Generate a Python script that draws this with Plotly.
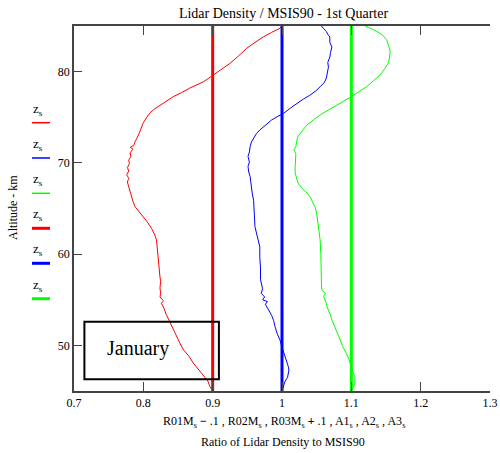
import plotly.graph_objects as go

# ---------------- data ----------------
# Red: R01M_s - .1
red_alt = [45.0, 45.5, 46.1, 46.75, 47.4, 48.07, 48.8, 49.5, 50.2, 50.95, 51.8, 52.6, 53.4, 53.9,
           54.2, 54.6, 54.9, 55.3, 55.7, 56.3, 57.0, 57.5, 58.5, 59.4, 60.5, 61.55, 62.2, 62.8,
           63.5, 64.1, 64.7, 65.2, 65.8, 66.3, 66.9, 67.4, 67.9, 68.3, 68.7, 69.1, 69.5, 69.9,
           70.3, 70.7, 71.1, 71.5, 71.7, 71.9, 72.3, 73.05, 73.7, 74.4, 75.0, 75.5, 75.9, 76.3,
           76.8, 77.25, 77.7, 78.2, 78.9, 79.6, 80.2, 80.9, 81.7, 82.55, 83.2, 83.8, 84.3, 84.75, 85.0]
red_x = [0.900, 0.896, 0.893, 0.886, 0.879, 0.872, 0.866, 0.858, 0.853, 0.848, 0.843, 0.838, 0.833, 0.831,
         0.829, 0.826, 0.829, 0.824, 0.825, 0.824, 0.825, 0.824, 0.823, 0.822, 0.821, 0.819, 0.816, 0.812,
         0.806, 0.800, 0.794, 0.788, 0.785, 0.783, 0.780, 0.778, 0.777, 0.779, 0.776, 0.779, 0.777, 0.780,
         0.779, 0.782, 0.781, 0.785, 0.781, 0.786, 0.788, 0.793, 0.796, 0.800, 0.805, 0.810, 0.816, 0.824,
         0.834, 0.843, 0.855, 0.867, 0.887, 0.900, 0.912, 0.925, 0.937, 0.949, 0.961, 0.973, 0.985, 0.997, 1.000]

# Blue: R02M_s
blue_alt = [45.0, 45.5, 46.0, 46.5, 46.9, 47.3, 47.7, 48.4, 49.1, 49.8, 50.6, 51.3, 52.05, 52.7, 53.3,
            53.8, 54.2, 54.5, 54.8, 55.0, 55.3, 55.7, 56.2, 57.2, 58.5, 59.6, 60.8, 61.9, 63.0, 64.5,
            65.9, 66.7, 67.4, 68.0, 68.5, 69.0, 69.6, 70.1, 70.7, 71.2, 71.8, 72.3, 72.7, 73.2, 73.6,
            74.2, 74.7, 75.1, 75.4, 76.0, 76.5, 77.0, 77.4, 77.9, 78.35, 78.8, 79.3, 79.9, 80.5, 81.0,
            81.6, 82.1, 82.7, 83.2, 83.8, 84.1, 84.4, 84.7, 85.0]
blue_x = [1.000, 1.002, 1.004, 1.008, 1.009, 1.010, 1.009, 1.006, 1.002, 1.000, 0.997, 0.993, 0.990, 0.988, 0.985,
          0.981, 0.978, 0.976, 0.979, 0.972, 0.975, 0.970, 0.972, 0.969, 0.969, 0.968, 0.968, 0.964, 0.961, 0.960,
          0.959, 0.957, 0.956, 0.955, 0.954, 0.952, 0.951, 0.953, 0.951, 0.953, 0.954, 0.956, 0.959, 0.963, 0.968,
          0.977, 0.985, 0.994, 1.002, 1.012, 1.021, 1.031, 1.040, 1.049, 1.055, 1.061, 1.064, 1.066, 1.067, 1.066,
          1.069, 1.070, 1.072, 1.069, 1.069, 1.066, 1.064, 1.060, 1.057]

# Green: R03M_s + .1
green_alt = [45.0, 45.4, 45.9, 46.6, 47.1, 47.7, 48.4, 49.1, 49.8, 50.6, 51.3, 52.05, 52.8, 53.5, 54.2,
             54.6, 55.0, 55.4, 55.7, 56.0, 56.4, 57.5, 58.6, 60.0, 61.55, 63.0, 64.5, 65.1, 65.6, 66.2,
             66.7, 67.2, 67.8, 68.3, 68.9, 69.6, 70.3, 71.0, 71.4, 71.8, 72.3, 72.9, 73.5, 74.15, 74.7,
             75.25, 75.8, 76.3, 76.8, 77.25, 77.8, 78.35, 79.0, 79.6, 80.3, 80.9, 81.5, 82.2, 82.8, 83.5,
             84.0, 84.4, 84.7, 85.0]
green_x = [1.100, 1.103, 1.105, 1.105, 1.102, 1.100, 1.097, 1.093, 1.088, 1.084, 1.080, 1.076, 1.072, 1.069, 1.065,
           1.064, 1.062, 1.060, 1.063, 1.058, 1.057, 1.057, 1.057, 1.056, 1.055, 1.053, 1.050, 1.048, 1.045, 1.041,
           1.036, 1.029, 1.023, 1.021, 1.019, 1.019, 1.019, 1.020, 1.017, 1.020, 1.021, 1.023, 1.029, 1.036, 1.045,
           1.055, 1.067, 1.079, 1.090, 1.100, 1.111, 1.122, 1.132, 1.141, 1.148, 1.153, 1.155, 1.156, 1.154, 1.151,
           1.145, 1.137, 1.129, 1.120]

# Reference ratios A1s, A2s, A3s
ref_values = [0.9, 1.0, 1.1]
alt_span = [45, 85]

x_tickvals = [0.7, 0.8, 0.9, 1.0, 1.1, 1.2, 1.3]
x_ticktext = ["0.7", "0.8", "0.9", "1", "1.1", "1.2", "1.3"]
y_tickvals = [50, 60, 70, 80]

colors = ["#ff0000", "#0000ff", "#00ff00"]
FONT = "Liberation Serif, Times New Roman, serif"

fig = go.Figure()
for xs, ys, c in [(red_x, red_alt, colors[0]), (blue_x, blue_alt, colors[1]), (green_x, green_alt, colors[2])]:
    fig.add_trace(go.Scatter(x=xs, y=ys, mode="lines", line=dict(color=c, width=1), showlegend=False))
for v, c in zip(ref_values, colors):
    fig.add_trace(go.Scatter(x=[v, v], y=alt_span, mode="lines", line=dict(color=c, width=3), showlegend=False))

# January box
fig.add_shape(type="rect", xref="x", yref="y", x0=0.715, x1=0.909, y0=46.3, y1=52.6,
              line=dict(color="black", width=2), fillcolor="rgba(0,0,0,0)")
fig.add_annotation(x=0.792, y=49.7, xref="x", yref="y", text="January", showarrow=False,
                   xanchor="center", yanchor="middle",
                   font=dict(family=FONT, size=20, color="black"))

# custom legend (label above line segment)
W, H, L, B = 416, 365, 74, 391
def px(xp):
    return (xp - L) / W
def py(yp):
    return (B - yp) / H
leg_y = [122.7, 158.0, 193.3, 228.3, 263.3, 298.7]
leg_w = [1.5, 1.5, 1.5, 3, 3, 3]
leg_c = colors + colors
for yy, ww, cc in zip(leg_y, leg_w, leg_c):
    fig.add_shape(type="line", xref="paper", yref="paper", x0=px(32), x1=px(50), y0=py(yy), y1=py(yy),
                  line=dict(color=cc, width=ww))
    fig.add_annotation(x=px(31), y=py(yy - 3), xref="paper", yref="paper", text="z<sub>s</sub>",
                       showarrow=False, xanchor="left", yanchor="bottom",
                       font=dict(family=FONT, size=13, color="black"))

# axis titles
fig.add_annotation(x=px(13), y=py(208), xref="paper", yref="paper", text="Altitude - km", textangle=-90,
                   showarrow=False, xanchor="center", yanchor="middle",
                   font=dict(family=FONT, size=12, color="black"))
fig.add_annotation(x=px(284), y=py(422), xref="paper", yref="paper",
                   text="R01M<sub>s</sub> <b>−</b> .1 , R02M<sub>s</sub> , R03M<sub>s</sub> <b>+</b> .1 , A1<sub>s</sub> , A2<sub>s</sub> , A3<sub>s</sub>",
                   showarrow=False, xanchor="center", yanchor="middle",
                   font=dict(family=FONT, size=12, color="black"))
fig.add_annotation(x=px(282.5), y=py(442), xref="paper", yref="paper",
                   text="Ratio of Lidar Density to MSIS90",
                   showarrow=False, xanchor="center", yanchor="middle",
                   font=dict(family=FONT, size=12, color="black"))

axis_color = "#444444"
fig.update_layout(
    width=500, height=453,
    margin=dict(l=74, r=10, t=26, b=62, autoexpand=False),
    paper_bgcolor="white", plot_bgcolor="white",
    title=dict(text="Lidar Density / MSIS90 - 1st Quarter", x=px(283.5), xref="paper", xanchor="center",
               y=1 - 13 / 453, yref="container", yanchor="middle",
               font=dict(family=FONT, size=14, color="black")),
    xaxis=dict(range=[0.7, 1.3], tickvals=x_tickvals, ticktext=x_ticktext, showgrid=False, zeroline=False,
               showline=True, linecolor=axis_color, linewidth=1.5, mirror="ticks", automargin=False,
               ticks="inside", ticklen=9, tickcolor=axis_color, tickwidth=1,
               tickfont=dict(family=FONT, size=12, color="black")),
    yaxis=dict(range=[45, 85], tickvals=y_tickvals, showgrid=False, zeroline=False, automargin=False,
               showline=True, linecolor=axis_color, linewidth=1.5,
               ticks="inside", ticklen=8, tickcolor=axis_color, tickwidth=1,
               tickfont=dict(family=FONT, size=12, color="black")),
)

fig.write_html("out.html")
